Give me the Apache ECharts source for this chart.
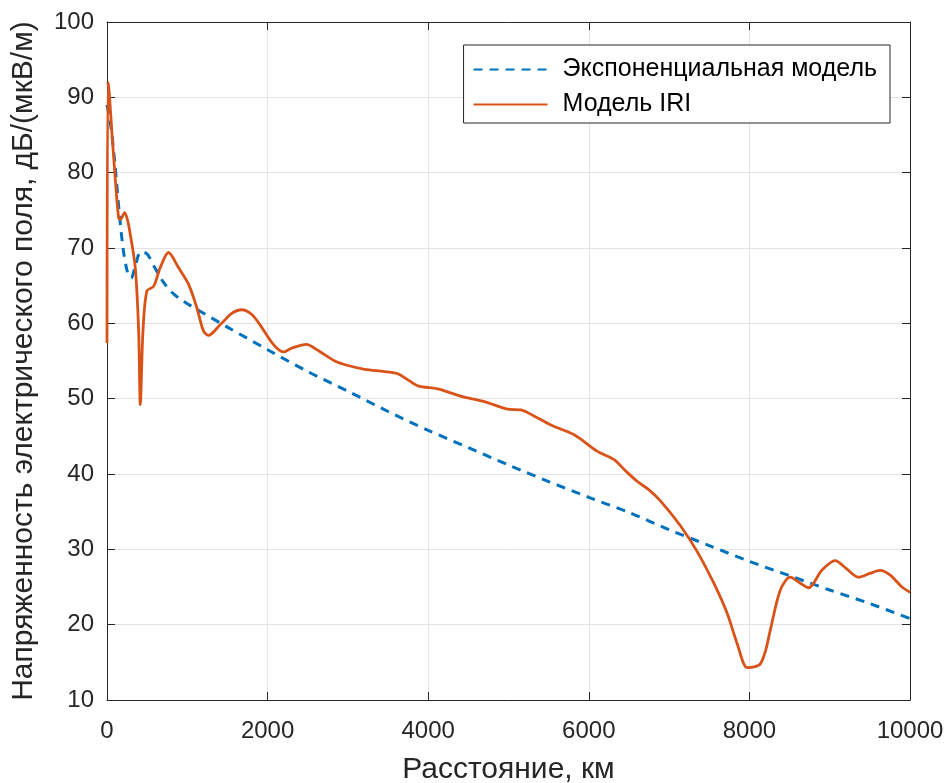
<!DOCTYPE html>
<html>
<head>
<meta charset="utf-8">
<script src="https://cdn.jsdelivr.net/npm/echarts@6/dist/echarts.min.js"></script>
<style>
  html, body { margin: 0; padding: 0; background: #fff; }
  #chart { width: 952px; height: 783px; }
</style>
</head>
<body>
<div id="chart"></div>
<script>
// distance, km / field strength, dB(uV/m)
var expDist = [0, 50, 100, 150, 200, 250, 300, 350, 420, 500, 600, 700, 800, 900, 1000,
  1500, 2000, 2500, 3000, 3500, 4000, 4500, 5000, 5500, 6000, 6500, 7000, 7500, 8000,
  8500, 9000, 9500, 10000]
var expVals = [89, 86, 81, 75, 70, 67, 66, 67.5, 69.5, 69.2, 67.3, 65.5, 64.2, 63.3, 62.6,
  59.5, 56.5, 53.6, 51.0, 48.3, 45.8, 43.5, 41.2, 39.0, 36.9, 34.9, 32.6, 30.5, 28.4,
  26.5, 24.6, 22.8, 20.8]

var iriDist = [0, 10, 25, 60, 104, 145, 166, 220, 260, 290, 352, 394, 415, 448, 497, 580,
  663, 766, 890, 1015, 1118, 1201, 1263, 1409, 1550, 1677, 1800, 1905, 2071, 2195, 2300,
  2484, 2600, 2837, 3000, 3210, 3458, 3624, 3748, 3872, 4120, 4300, 4452, 4700, 4990,
  5155, 5300, 5528, 5818, 6108, 6315, 6450, 6605, 6750, 6895, 7143, 7350, 7557, 7723,
  7847, 7972, 8060, 8137, 8200, 8261, 8385, 8509, 8620, 8737, 8900, 9068, 9200, 9358,
  9500, 9627, 9750, 9900, 10000]
var iriVals = [57.4, 92, 91, 85.5, 79, 74, 73.8, 74.7, 73.5, 71.8, 67.4, 59, 49.2, 59, 64.3, 64.9,
  67.4, 69.4, 67.4, 65.2, 62.1, 59.0, 58.4, 59.8, 61.3, 61.8, 61.2, 59.8, 57.2, 56.2, 56.7,
  57.2, 56.6, 55.0, 54.4, 53.9, 53.6, 53.3, 52.5, 51.7, 51.3, 50.7, 50.2, 49.6, 48.6,
  48.5, 47.8, 46.5, 45.2, 43.0, 41.9, 40.5, 39.0, 37.9, 36.4, 33.1, 29.7, 25.5, 21.5,
  17.5, 14.3, 14.4, 14.8, 16.5, 19.3, 24.6, 26.3, 25.6, 24.9, 27.2, 28.5, 27.5, 26.3,
  26.8, 27.2, 26.6, 25.0, 24.3]

var seriesNames = ['Экспоненциальная модель', 'Модель IRI']

function pairs (xs, ys) {
  return xs.map(function (x, i) { return [x, ys[i]] })
}

var font = 'Liberation Sans, Arial, Helvetica, sans-serif'
var axisColor = '#262626'

var chart = echarts.init(document.getElementById('chart'))

var baseAxis = {
  axisLine: { show: true, onZero: false, lineStyle: { color: axisColor, width: 1 } },
  axisTick: { show: true, inside: true, length: 8, lineStyle: { color: axisColor } },
  splitLine: { show: false },
  axisLabel: { show: false }
}

chart.setOption({
  animation: false,
  backgroundColor: '#fff',
  grid: { left: 107, right: 42, top: 22, bottom: 83, outerBoundsMode: 'none', containLabel: false },
  legend: {
    data: seriesNames,
    orient: 'vertical',
    right: 62,
    top: 45,
    itemWidth: 74,
    itemHeight: 14,
    itemGap: 10,
    padding: [12, 13, 6, 9],
    borderColor: axisColor,
    borderWidth: 1,
    borderRadius: 0,
    backgroundColor: '#fff',
    itemStyle: { opacity: 0 },
    textStyle: { fontFamily: font, fontSize: 25, color: '#000', padding: [0, 0, 0, 10] }
  },
  xAxis: [{
    type: 'value',
    min: 0,
    max: 10000,
    interval: 2000,
    name: 'Расстояние, км',
    nameLocation: 'middle',
    nameGap: 55,
    nameTextStyle: { fontFamily: font, fontSize: 30, color: axisColor },
    axisLine: { show: true, onZero: false, lineStyle: { color: axisColor, width: 1 } },
    axisTick: { show: true, inside: true, length: 8, lineStyle: { color: axisColor } },
    axisLabel: {
      fontFamily: font, fontSize: 24, color: axisColor, margin: 19,
      formatter: function (v) { return String(v) }
    },
    splitLine: { show: true, lineStyle: { color: '#e3e3e3', width: 1 } }
  }, Object.assign({}, baseAxis, {
    type: 'value', position: 'top', min: 0, max: 10000, interval: 2000
  })],
  yAxis: [{
    type: 'value',
    min: 10,
    max: 100,
    interval: 10,
    name: 'Напряженность электрического поля, дБ/(мкВ/м)',
    nameLocation: 'middle',
    nameGap: 68,
    nameTextStyle: { fontFamily: font, fontSize: 30, color: axisColor },
    axisLine: { show: true, onZero: false, lineStyle: { color: axisColor, width: 1 } },
    axisTick: { show: true, inside: true, length: 8, lineStyle: { color: axisColor } },
    axisLabel: { fontFamily: font, fontSize: 24, color: axisColor, margin: 13 },
    splitLine: { show: true, lineStyle: { color: '#e3e3e3', width: 1 } }
  }, Object.assign({}, baseAxis, {
    type: 'value', position: 'right', min: 10, max: 100, interval: 10
  })],
  series: [{
    name: seriesNames[0],
    type: 'line',
    data: pairs(expDist, expVals),
    smooth: 0.3,
    symbol: 'none',
    lineStyle: { color: '#0072BD', width: 3, type: [9, 7] },
    itemStyle: { color: '#0072BD' },
    z: 2
  }, {
    name: seriesNames[1],
    type: 'line',
    data: pairs(iriDist, iriVals),
    smooth: 0.3,
    symbol: 'none',
    lineStyle: { color: '#D95319', width: 2.8 },
    itemStyle: { color: '#D95319' },
    z: 3
  }]
})
</script>
</body>
</html>
